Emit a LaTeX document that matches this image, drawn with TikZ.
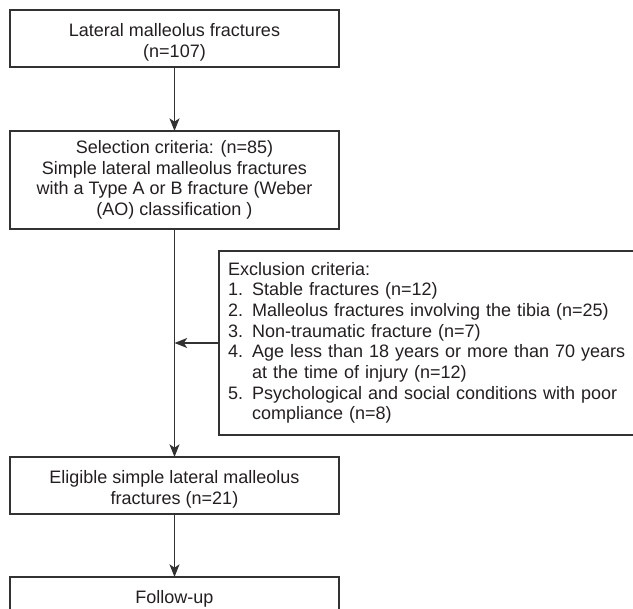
\documentclass[tikz,border=0pt]{standalone}
\usepackage{fontspec}
\setmainfont{Liberation Sans}
\usepackage{tikz}
\usetikzlibrary{arrows.meta,positioning}
\definecolor{linecolor}{RGB}{50,50,50}
\definecolor{textcolor}{RGB}{35,31,32}
\newcommand{\topgap}{\rule{0pt}{15.5pt}}

\begin{document}
\begin{tikzpicture}[x=0.75pt,y=-0.75pt,>={Stealth[length=9.5pt,width=7.5pt,inset=2.5pt]},
  every node/.style={font=\fontsize{13.5}{15.5}\selectfont,text=textcolor},
  box/.style={draw=linecolor,line width=0.9pt,align=center,minimum width=246.75pt,inner sep=0pt,outer sep=0pt},
  exbox/.style={draw=linecolor,line width=0.9pt,align=left,text width=450pt,minimum height=138pt,inner xsep=6.75pt,outer sep=0pt},
  flow/.style={->,line width=0.9pt,draw=linecolor}]
\clip (0,0) rectangle (633,608);
\node[box,minimum height=42.75pt](total) at (174.5,38.5){\topgap Lateral malleolus fractures\\[0.5pt](n=107)};
\node[box,minimum height=73.5pt,below=48pt of total](select){Selection criteria: (n=85)\\Simple lateral malleolus fractures\\with a Type A or B fracture (Weber\\(AO) classification )};
\node[box,minimum height=42.75pt,below=171pt of select](elig){\topgap Eligible simple lateral malleolus\\[0.5pt]fractures (n=21)};
\node[box,below=47.25pt of elig,text height=10pt,text depth=40pt,inner ysep=9.5pt](follow){Follow-up};
\node[exbox,anchor=west](excl) at (219,343){Exclusion criteria:\\1. Stable fractures (n=12)\\2. Malleolus fractures involving the tibia (n=25)\\3. Non-traumatic fracture (n=7)\\4. Age less than 18 years or more than 70 years\\\hphantom{4. }at the time of injury (n=12)\\5. Psychological and social conditions with poor\\\hphantom{5. }compliance (n=8)};
\draw[flow](total)--(select); \draw[flow](select)--(elig); \draw[flow](elig)--(follow);
\draw[flow](excl.west)--(excl.west -| select.south);
\end{tikzpicture}
\end{document}
